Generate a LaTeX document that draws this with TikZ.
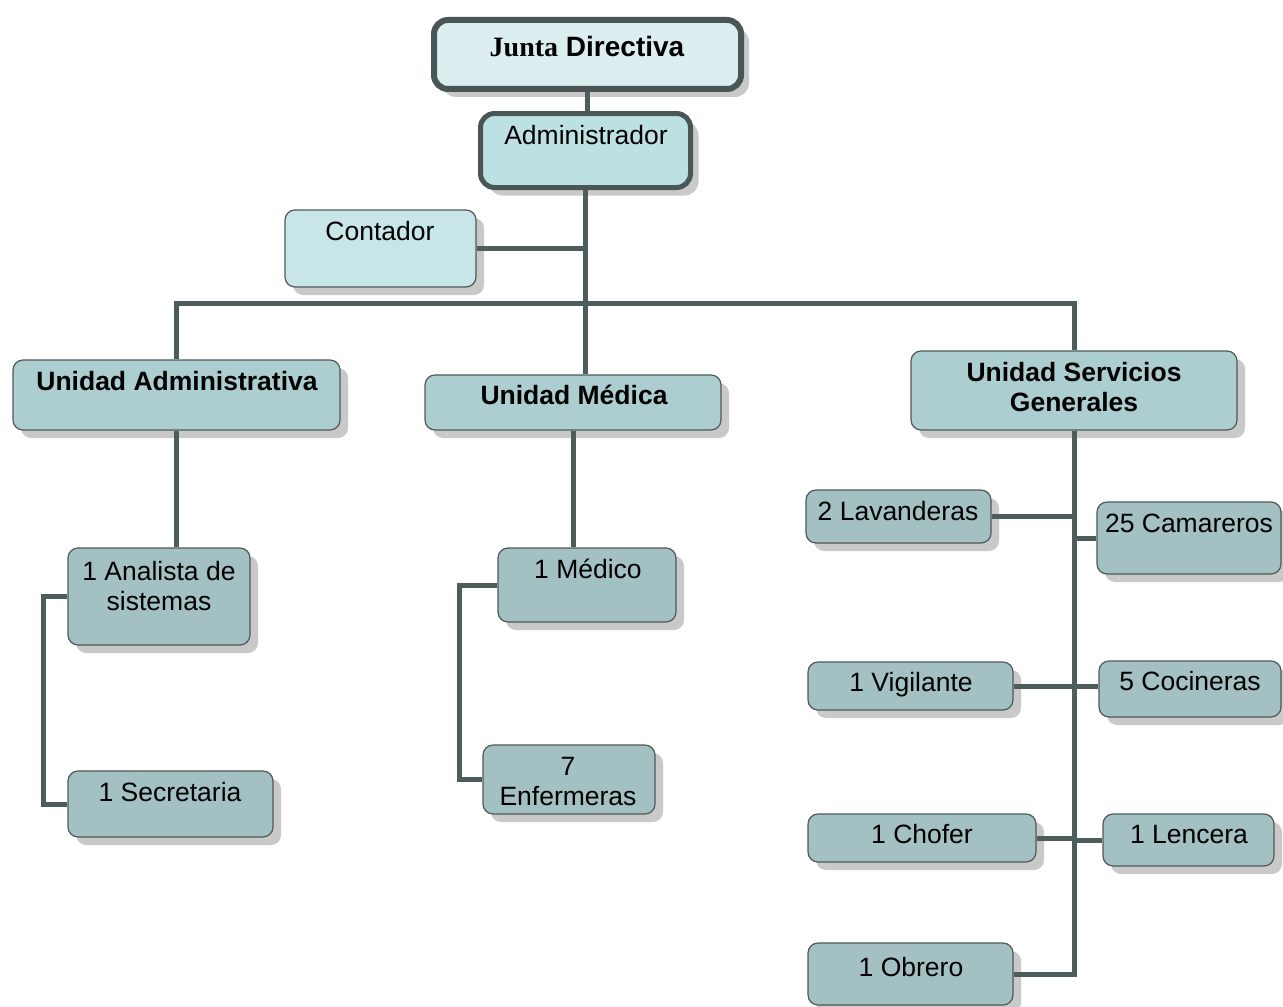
\documentclass[tikz,border=0pt]{standalone}
\usepackage{fontspec}
\setmainfont{Liberation Sans}
\newfontfamily\juntaserif{Liberation Serif}
\usetikzlibrary{shadows}
\definecolor{linecol}{HTML}{4D5C5C}
\definecolor{thickcol}{HTML}{4A5656}
\definecolor{edgecol}{HTML}{505858}
\definecolor{shadowcol}{HTML}{C9C9C9}
\definecolor{juntafill}{HTML}{DCEEF0}
\definecolor{adminfill}{HTML}{BDE0E2}
\definecolor{contfill}{HTML}{C8E6E8}
\definecolor{unitfill}{HTML}{ACCED0}
\definecolor{leaffill}{HTML}{A3C0C2}
\tikzset{
  orgbox/.style={rounded corners=5pt, draw=edgecol, line width=0.6pt, inner sep=0pt,
    drop shadow={shadow xshift=4pt, shadow yshift=-4pt, fill=shadowcol, opacity=1}},
  thickbox/.style={orgbox, draw=thickcol, line width=3pt, rounded corners=7pt},
  unitbox/.style={orgbox, fill=unitfill},
  leafbox/.style={orgbox, fill=leaffill},
  lbl/.style={align=center, anchor=base, inner sep=0pt, font=\fontsize{13.25pt}{15pt}\selectfont},
  blbl/.style={lbl, font=\fontsize{13.25pt}{15pt}\selectfont\bfseries},
  conn/.style={draw=linecol, line width=2.5pt}
}
\begin{document}
\begin{tikzpicture}[x=0.5pt, y=-0.5pt]
\useasboundingbox (0,0) rectangle (1283,1006);
% boxes
\node[thickbox, fill=juntafill, minimum width=153.5pt, minimum height=34.5pt] (junta) at (587.5,54.5) {};
\node[lbl, font=\fontsize{14pt}{16pt}\selectfont\bfseries] (junta-t) at (587,57) {{\juntaserif Junta} Directiva};
\node[thickbox, fill=adminfill, line width=2.5pt, minimum width=105pt, minimum height=37pt] (admin) at (585.5,150.5) {};
\node[lbl] (admin-t) at (586,144.5) {Administrador};
\node[orgbox, fill=contfill, minimum width=95.5pt, minimum height=38.5pt] (cont) at (380.5,248.5) {};
\node[lbl] (cont-t) at (380,240.5) {Contador};
\node[unitbox, minimum width=163.5pt, minimum height=35pt] (ua) at (176.5,395) {};
\node[blbl] (ua-t) at (177,390.5) {Unidad Administrativa};
\node[unitbox, minimum width=148pt, minimum height=27.5pt] (med) at (573,402.5) {};
\node[blbl] (med-t) at (574,404.5) {Unidad Médica};
\node[unitbox, minimum width=163pt, minimum height=39.5pt] (usg) at (1074,390.5) {};
\node[blbl] (usg-t) at (1074,411.5) {Unidad Servicios\\Generales};
\node[leafbox, minimum width=91pt, minimum height=48.5pt] (an) at (159,596.5) {};
\node[lbl] (an-t) at (159,610) {1 Analista de\\sistemas};
\node[leafbox, minimum width=102.5pt, minimum height=33pt] (sec) at (170.5,804) {};
\node[lbl] (sec-t) at (170,801.5) {1 Secretaria};
\node[leafbox, minimum width=89pt, minimum height=37pt] (medico) at (587,585) {};
\node[lbl] (medico-t) at (588,578.5) {1 Médico};
\node[leafbox, minimum width=86pt, minimum height=34.5pt] (enf) at (569,779.5) {};
\node[lbl] (enf-t) at (568,805) {7\\Enfermeras};
\node[leafbox, minimum width=92.5pt, minimum height=26.5pt] (lav) at (898.5,516.5) {};
\node[lbl] (lav-t) at (898,520.5) {2 Lavanderas};
\node[leafbox, minimum width=92pt, minimum height=36pt] (cam) at (1189,538) {};
\node[lbl] (cam-t) at (1189,532.5) {25 Camareros};
\node[leafbox, minimum width=102.5pt, minimum height=24pt] (vig) at (910.5,686) {};
\node[lbl] (vig-t) at (911,691.5) {1 Vigilante};
\node[leafbox, minimum width=91pt, minimum height=28pt] (coc) at (1190,689) {};
\node[lbl] (coc-t) at (1190,690.5) {5 Cocineras};
\node[leafbox, minimum width=114pt, minimum height=24pt] (chof) at (922,838) {};
\node[lbl] (chof-t) at (922,843.5) {1 Chofer};
\node[leafbox, minimum width=85.5pt, minimum height=26pt] (len) at (1188.5,840) {};
\node[lbl] (len-t) at (1189,843.5) {1 Lencera};
\node[leafbox, minimum width=102.5pt, minimum height=31pt] (obr) at (910.5,974) {};
\node[lbl] (obr-t) at (911,976.5) {1 Obrero};
% connectors
\coordinate (bar) at (586,303);
\draw[conn] (junta.south) -- (junta.south |- admin.north);
\draw[conn] (admin.south) -- (admin.south |- med.north);
\draw[conn] (cont.east) -- (cont.east -| admin.south);
\draw[conn] (ua.north) |- (bar) -| (usg.north);
\draw[conn] (ua.south) -- (ua.south |- an.north);
\draw[conn] (an.west) -- ++(-24,0) |- (sec.west);
\draw[conn] (med.south) -- (med.south |- medico.north);
\draw[conn] (medico.west) -- ++(-38,0) |- (enf.west);
\draw[conn] (usg.south) -- (usg.south |- obr.east) -- (obr.east);
\draw[conn] (lav.east) -- (lav.east -| usg.south);
\draw[conn] (cam.west) -- (cam.west -| usg.south);
\draw[conn] (vig.east) -- (vig.east -| coc.west);
\draw[conn] (chof.east) -- (chof.east -| usg.south);
\draw[conn] (len.west) -- (len.west -| usg.south);
\end{tikzpicture}
\end{document}
